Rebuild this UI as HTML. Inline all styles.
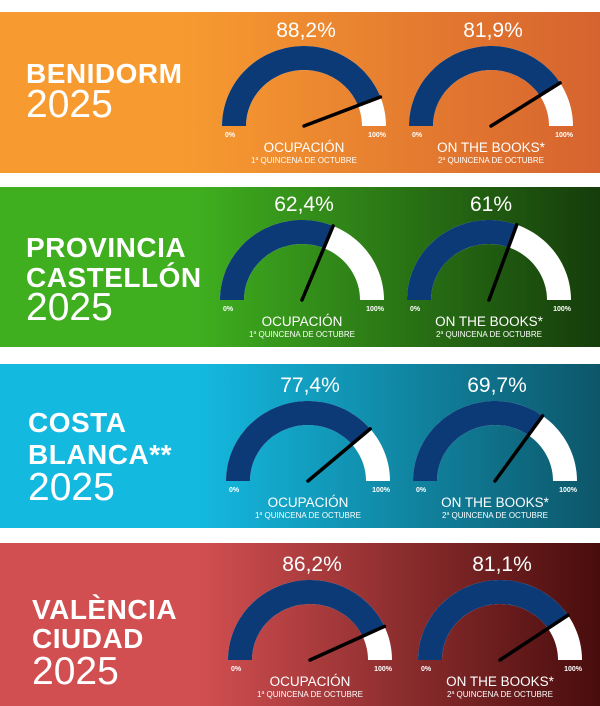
<!DOCTYPE html>
<html><head><meta charset="utf-8">
<style>
html,body{margin:0;padding:0;background:#fff;}
svg{display:block;}
text{font-family:"Liberation Sans",sans-serif;fill:#fff;}
</style></head>
<body>
<svg id="chart" width="600" height="706" viewBox="0 0 600 706">
<defs>
<linearGradient id="g0" x1="0" x2="1" y1="0" y2="0"><stop offset="0.3" stop-color="#f79b30"/><stop offset="1" stop-color="#d6632f"/></linearGradient>
<linearGradient id="g1" x1="0" x2="1" y1="0" y2="0"><stop offset="0.33" stop-color="#3fae1f"/><stop offset="1" stop-color="#153c0b"/></linearGradient>
<linearGradient id="g2" x1="0" x2="1" y1="0" y2="0"><stop offset="0.33" stop-color="#14b9e0"/><stop offset="1" stop-color="#0d5669"/></linearGradient>
<linearGradient id="g3" x1="0" x2="1" y1="0" y2="0"><stop offset="0.33" stop-color="#d24f51"/><stop offset="1" stop-color="#480c0c"/></linearGradient>
</defs>
</svg>
<script>
const regions = ["BENIDORM", "PROVINCIA CASTELLÓN", "COSTA BLANCA**", "VALÈNCIA CIUDAD"];
const ocupacion = [88.2, 62.4, 77.4, 86.2];
const onTheBooks = [81.9, 61, 69.7, 81.1];
const ocupacionLabels = ["88,2%", "62,4%", "77,4%", "86,2%"];
const onTheBooksLabels = ["81,9%", "61%", "69,7%", "81,1%"];

const svg = document.getElementById('chart');
const NS = 'http://www.w3.org/2000/svg';
const layout = [
  {top:12, bot:173, c1:304, c2:491, tx:26, lines:[["BENIDORM",71],["2025",105]]},
  {top:187, bot:347, c1:302, c2:489, tx:26, lines:[["PROVINCIA",70],["CASTELLÓN",100],["2025",133]]},
  {top:364, bot:528, c1:308, c2:495, tx:28, lines:[["COSTA",68],["BLANCA**",100],["2025",136]]},
  {top:543, bot:706, c1:310, c2:500, tx:32, lines:[["VALÈNCIA",76],["CIUDAD",105],["2025",141]]}
];
const RX=82, RY=80, rx=58, ry=56;

function mk(tag, attrs, parent){
  const e=document.createElementNS(NS,tag);
  for(const k in attrs) e.setAttribute(k,attrs[k]);
  (parent||svg).appendChild(e); return e;
}
function angle(v){ return Math.PI*(1 - v/100); }
function band(cx, cy, v0, v1){
  let pts=[]; const n=60;
  for(let i=0;i<=n;i++){const a=angle(v0+(v1-v0)*i/n); pts.push((cx+RX*Math.cos(a)).toFixed(2)+','+(cy-RY*Math.sin(a)).toFixed(2));}
  for(let i=n;i>=0;i--){const a=angle(v0+(v1-v0)*i/n); pts.push((cx+rx*Math.cos(a)).toFixed(2)+','+(cy-ry*Math.sin(a)).toFixed(2));}
  return pts.join(' ');
}
function gauge(g, cx, cy, value, label, title, sub, sup, idx){
  const grp=mk('g',{},g);
  
  
  const bg=mk('polygon',{points:band(cx,cy,0,100),fill:'#ffffff'},grp);
  
  
  const fg=mk('polygon',{points:band(cx,cy,0,value),fill:'#0b3a76'},grp);
  
  
  const a=angle(value);
  const nd=mk('line',{x1:cx,y1:cy,x2:cx+RX*Math.cos(a),y2:cy-RY*Math.sin(a),stroke:'#000','stroke-width':3.5,'stroke-linecap':'round'},grp);
  
  
  const pv=mk('text',{x:cx+2,y:cy-89,'font-size':21,'text-anchor':'middle'},grp);
  pv.textContent=label;
  
  
  const z=mk('text',{x:cx-RX+3,y:cy+11,'font-size':7,'font-weight':'bold'},grp);
  z.textContent='0%';
  
  
  const h=mk('text',{x:cx+RX,y:cy+11,'font-size':7,'font-weight':'bold','text-anchor':'end'},grp);
  h.textContent='100%';
  
  
  const t=mk('text',{x:cx,y:cy+26,'font-size':13.5,'text-anchor':'middle'},grp);
  t.textContent=title;
  
  
  const s=mk('text',{x:cx,y:cy+37,'font-size':8,'text-anchor':'middle'},grp);
  
  
  const s1=mk('tspan',{},s); s1.textContent=sup;
  const s2=mk('tspan',{'font-size':5,dy:-3},s); s2.textContent='a';
  const s3=mk('tspan',{dy:3},s); s3.textContent=' '+sub;
}
layout.forEach((L,i)=>{
  const g=mk('g',{});
  
  
  const r=mk('rect',{x:0,y:L.top,width:600,height:L.bot-L.top,fill:'url(#g'+i+')'},g);
  
  
  L.lines.forEach(([txt,dy])=>{
    const is=txt==='2025';
    const t=mk('text',{x:L.tx,y:L.top+dy,'font-size':is?39:28,'font-weight':is?'normal':'bold','letter-spacing':is?0:0.5},g);
    t.textContent=txt;
    
    
  });
  const cy=L.top+(i===0?114:(i===1?113:117));
  gauge(g,L.c1,cy,ocupacion[i],ocupacionLabels[i],'OCUPACIÓN','QUINCENA DE OCTUBRE','1',i);
  gauge(g,L.c2,cy,onTheBooks[i],onTheBooksLabels[i],'ON THE BOOKS*','QUINCENA DE OCTUBRE','2',i);
});
</script>
</body></html>
